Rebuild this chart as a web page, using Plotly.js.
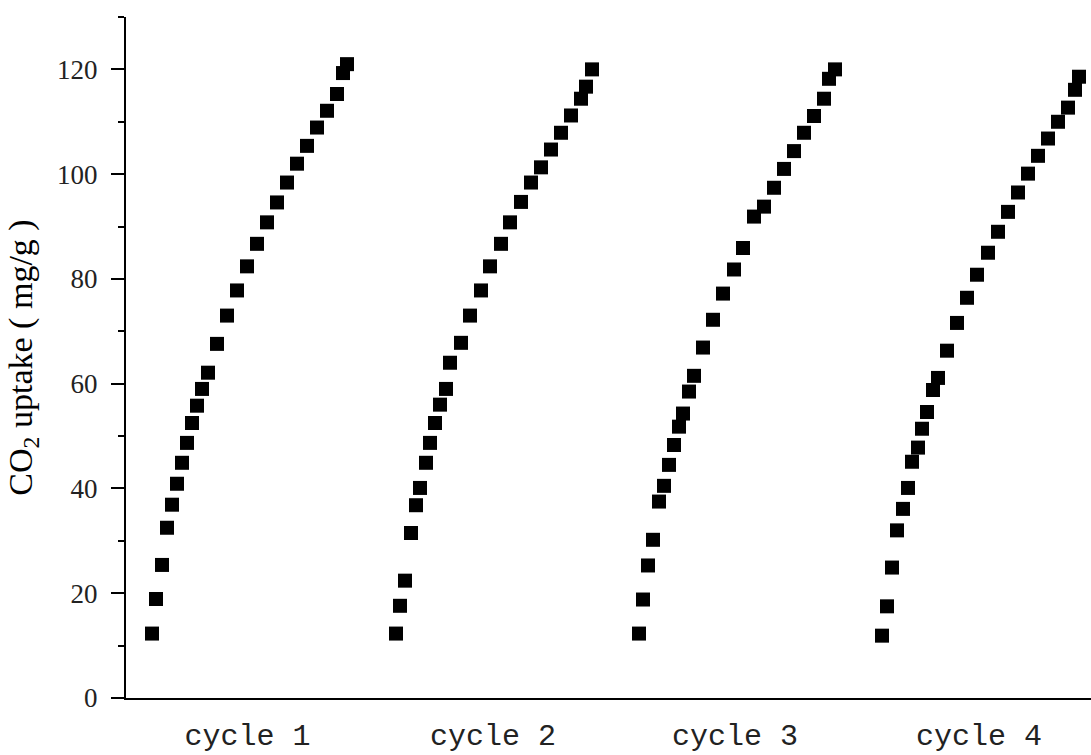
<!DOCTYPE html>
<html>
<head>
<meta charset="utf-8">
<script src="https://cdn.plot.ly/plotly-3.0.1.min.js"></script>
<style>html,body{margin:0;padding:0;background:#fff;}#chart{width:1091px;height:755px;}</style>
</head>
<body>
<div id="chart"></div>
<script>
// x positions (arbitrary time units along the run) and CO2 uptake (mg/g)
const cycle1X = [26,30,36,41,46,51,56,61,66,71,76,82,91,101,111,121,131,141,151,161,171,181,191,201,211,217,221];
const cycle1Y = [12.3,18.9,25.4,32.5,36.9,40.9,44.9,48.7,52.5,55.8,59.0,62.1,67.6,73.0,77.8,82.4,86.7,90.8,94.6,98.4,102.0,105.4,108.9,112.1,115.3,119.3,121.0];

const cycle2X = [270,274,279,285,290,294,300,304,309,314,320,324,335,344,355,364,375,384,395,405,415,425,435,445,455,460,466];
const cycle2Y = [12.3,17.6,22.4,31.5,36.8,40.1,44.9,48.7,52.5,56.0,59.0,64.0,67.8,73.0,77.8,82.4,86.7,90.8,94.7,98.4,101.3,104.7,107.9,111.2,114.4,116.7,120.0];

const cycle3X = [513,517,522,527,533,538,543,548,553,557,563,568,577,587,597,608,617,628,638,648,658,668,678,688,698,703,709];
const cycle3Y = [12.3,18.8,25.3,30.2,37.5,40.5,44.5,48.3,51.8,54.3,58.5,61.5,66.9,72.2,77.2,81.8,85.9,91.9,93.8,97.4,101.0,104.4,107.9,111.1,114.4,118.2,120.0];

const cycle4X = [756,761,766,771,777,782,786,792,796,801,807,812,821,831,841,851,862,872,882,892,902,912,922,932,942,949,953];
const cycle4Y = [11.9,17.5,24.9,32.0,36.1,40.1,45.1,47.8,51.4,54.6,58.8,61.1,66.3,71.6,76.4,80.8,85.0,89.0,92.8,96.5,100.1,103.5,106.8,110.0,112.7,116.1,118.6];

const cycleTickVals = [121.5,367,609,853];
const cycleTickText = ["cycle 1","cycle 2","cycle 3","cycle 4"];

const seriesX = [cycle1X, cycle2X, cycle3X, cycle4X];
const seriesY = [cycle1Y, cycle2Y, cycle3Y, cycle4Y];

const traces = seriesX.map((xs, i) => ({
  type: 'scatter',
  mode: 'markers',
  x: xs,
  y: seriesY[i],
  name: cycleTickText[i],
  marker: {symbol: 'square', size: 14, color: '#000000', line: {width: 0}},
  showlegend: false,
  hoverinfo: 'x+y'
}));

const layout = {
  width: 1091,
  height: 755,
  margin: {l: 126, r: 0, t: 17, b: 57, pad: 0},
  paper_bgcolor: '#ffffff',
  plot_bgcolor: '#ffffff',
  showlegend: false,
  xaxis: {
    range: [0, 965],
    showgrid: false,
    zeroline: false,
    showline: true,
    linecolor: '#000000',
    linewidth: 2,
    ticks: '',
    tickmode: 'array',
    tickvals: cycleTickVals,
    ticktext: cycleTickText,
    tickfont: {family: '"Liberation Mono", "DejaVu Sans Mono", monospace', size: 30, color: '#222222'},
    ticklabelstandoff: 9
  },
  yaxis: {
    range: [0, 130],
    showgrid: false,
    zeroline: false,
    showline: true,
    linecolor: '#000000',
    linewidth: 2,
    ticks: 'outside',
    ticklen: 13,
    tickwidth: 2,
    tickcolor: '#000000',
    tickmode: 'linear',
    tick0: 0,
    dtick: 20,
    ticklabelstandoff: 8,
    minor: {ticks: 'outside', ticklen: 6, tickwidth: 2, tickcolor: '#000000', dtick: 10, tick0: 0, showgrid: false},
    tickfont: {family: '"Liberation Serif", "Times New Roman", serif', size: 27, color: '#222222'},
    title: {
      text: 'CO<sub>2</sub> uptake ( mg/g )',
      font: {family: '"Liberation Serif", "Times New Roman", serif', size: 34, color: '#000000'},
      standoff: 14
    }
  }
};

Plotly.newPlot('chart', traces, layout, {staticPlot: true, displayModeBar: false});
</script>
</body>
</html>
